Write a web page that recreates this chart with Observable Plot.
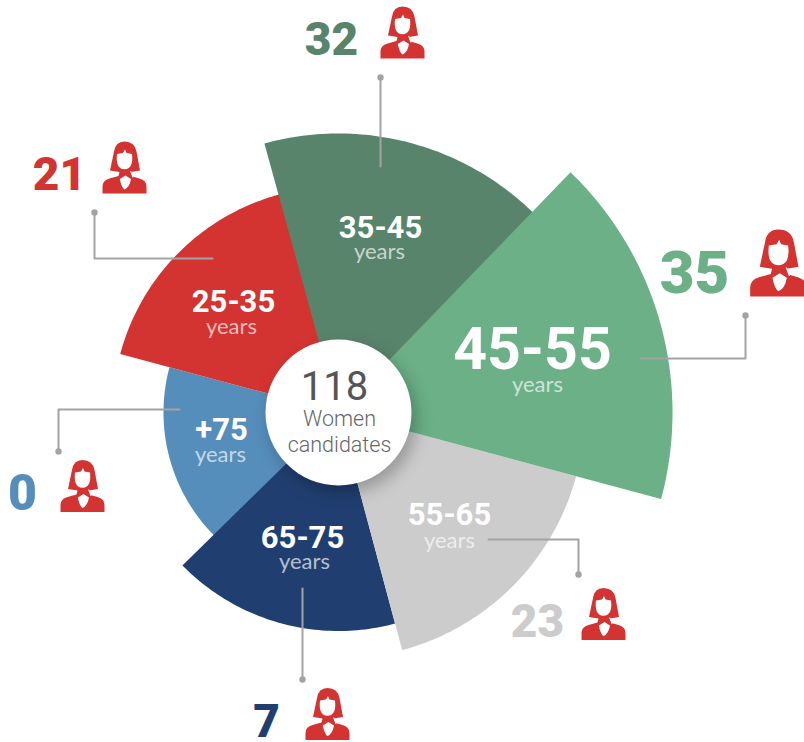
<!DOCTYPE html>
<html><head><meta charset="utf-8">
<script src="https://cdn.jsdelivr.net/npm/d3@7"></script>
<script src="https://cdn.jsdelivr.net/npm/@observablehq/plot@0.6"></script>
<style>html,body{margin:0;padding:0;background:#fff}svg{display:block}</style>
</head><body><div id="chart"></div>
<script>
// ---- chart values
const groups   = ["+75","65-75","55-65","45-55","35-45","25-35"];
const counts   = [0,7,23,35,32,21];
const startDeg = [225,165,105,44,-15.4,285];
const spanDeg  = [60,60.6,60,61,60,60];
const reach    = [175,218.5,246,334,279,226];
const colors   = ["#558dbb","#203f70","#cccccc","#6bb086","#59846c","#d33431"];
const total = 118;
const totalLabel = ["Women","candidates"];
const unit = "years";

// ---- annotation layout (separate from values, same order as groups)
const center = [338,412];
const groupLabelAt = [[221,430],[302,538],[449,515],[532,350],[380,228],[233,302]];
const groupLabelSize = [31,31,31,59,31,31];
const unitAt = [[220,454],[304,561],[449,540],[537,384],[379,251],[231,326]];
const countAt = [[22,493],[266,722],[537,622],[694,273],[331,40],[59,175]];
const countSize = [50,46,46,60,46,46];
const iconAt = [[82,485.5],[327,713.5],[603,613.5],[778,262.5],[402,32],[124,167]];
const iconSize = [26,26,26,33.5,26,26];
const leaders = [
  [[179,409],[58,409],[58,451]],
  [[302,588],[302,679]],
  [[488,539],[578,539],[578,574]],
  [[640,358],[745,358],[745,315]],
  [[380,166],[380,77]],
  [[212,258],[94,258],[94,212]]
];

const rows = groups.map((g,i)=>({group:g,count:counts[i],start:startDeg[i],span:spanDeg[i],reach:reach[i],color:colors[i],i}));
const sectorPts = rows.flatMap(r=>{
  const pts=[{i:r.i,x:center[0],y:center[1],color:r.color}];
  for(let k=0;k<=60;k++){
    const a=(r.start+k*r.span/60)*Math.PI/180;
    pts.push({i:r.i,x:center[0]+r.reach*Math.sin(a),y:center[1]-r.reach*Math.cos(a),color:r.color});
  }
  pts.push({i:r.i,x:center[0],y:center[1],color:r.color});
  return pts;
});
const leaderPts = leaders.flatMap((l,i)=>l.map(p=>({i,x:p[0],y:p[1]})));
const leaderEnds = leaders.map(l=>({x:l[l.length-1][0],y:l[l.length-1][1]}));
const iconRows = rows.map((r,i)=>({x:iconAt[i][0],y:iconAt[i][1],r:iconSize[i]}));

// person pictogram
function scaler(ctx,size){const k=Math.sqrt(size/Math.PI)/26;
  return {M:(x,y)=>ctx.moveTo(x*k,y*k),L:(x,y)=>ctx.lineTo(x*k,y*k),
    Q:(a,b,x,y)=>ctx.quadraticCurveTo(a*k,b*k,x*k,y*k),
    C:(a,b,c,d,x,y)=>ctx.bezierCurveTo(a*k,b*k,c*k,d*k,x*k,y*k),Z:()=>ctx.closePath()};}
const personBody={draw(ctx,size){const p=scaler(ctx,size);
  p.M(-14.5,3);p.L(-10.5,-16);p.Q(-9,-26,0,-26);p.Q(10,-26,12,-16);p.L(15.5,3);p.L(6.5,4.5);
  p.L(8,9);p.L(15,11);p.Q(22,13,22,19);p.L(22,26);p.L(-22,26);p.L(-22,19);p.Q(-22,13,-15,11);
  p.L(-6,8.5);p.L(-5,4.5);p.Z();}};
const personFace={draw(ctx,size){const p=scaler(ctx,size);
  p.M(-7.5,-13.5);p.L(-1.5,-14.5);p.L(0.5,-18);p.L(2,-14.5);p.L(7.5,-13.5);
  p.C(8.5,-5,7,1.5,0,1.8);p.C(-7,1.5,-8.5,-5,-7.5,-13.5);p.Z();
  p.M(-4.7,11.4);p.L(1,8);p.L(6.5,11.5);p.Q(5,20,0,22);p.Q(-3,20,-4.7,11.4);p.Z();
  p.M(5.6,3.5);p.L(6.6,3.5);p.L(9,10);p.L(8,10);p.Z();}};

const shadow=(f)=>(index,scales,values,dims,ctx,next)=>{
  const g=next(index,scales,values,dims,ctx); g.style.filter=f; return g;};

const txt=(data,o)=>Plot.text(data,{textAnchor:"middle",lineAnchor:"middle",...o});
const labelRows=rows.map((r,i)=>({t:r.group,x:groupLabelAt[i][0],y:groupLabelAt[i][1],s:groupLabelSize[i]}));
const unitRows=rows.map((r,i)=>({t:unit,x:unitAt[i][0],y:unitAt[i][1]}));
const countRows=rows.map((r,i)=>({t:String(r.count),x:countAt[i][0],y:countAt[i][1],s:countSize[i],c:r.color}));

const drawOrder=[0,5,4,1,2,3];
const plot=Plot.plot({
  width:804,height:742,margin:0,
  style:{background:"#fff",overflow:"visible"},
  x:{domain:[0,804],range:[0,804],axis:null},
  y:{domain:[0,742],range:[0,742],axis:null},
  r:{type:"identity"},
  marks:[
    ...drawOrder.map(i=>Plot.line(sectorPts.filter(d=>d.i===i),{x:"x",y:"y",fill:colors[i],stroke:"none"})),
    Plot.line(leaderPts,{x:"x",y:"y",z:"i",stroke:"#a3a3a3",strokeWidth:2,curve:"linear"}),
    Plot.dot(leaderEnds,{x:"x",y:"y",r:3.2,fill:"#a3a3a3",stroke:"none"}),
    Plot.dot([{x:center[0],y:center[1]}],{x:"x",y:"y",r:73,fill:"#fff",stroke:"none",
       render:shadow("drop-shadow(5px 7px 8px rgba(0,0,0,.26))")}),
    txt(labelRows,{x:"x",y:"y",text:"t",fontSize:"s",fontWeight:700,fontFamily:"Roboto",fill:"#fff"}),
    txt(unitRows,{x:"x",y:"y",text:"t",fontSize:22,fontWeight:400,fontFamily:"Lato",fill:"#fff",fillOpacity:0.68}),
    txt(countRows,{x:"x",y:"y",text:"t",fontSize:"s",fontWeight:900,fontFamily:"Roboto",fill:"c"}),
    Plot.dot(iconRows,{x:"x",y:"y",r:"r",symbol:personBody,fill:"#d33431",stroke:"none"}),
    Plot.dot(iconRows,{x:"x",y:"y",r:"r",symbol:personFace,fill:"#fff",stroke:"none"}),
    txt([{t:String(total)}],{x:()=>334,y:()=>387,text:"t",fontSize:40,fontWeight:400,fontFamily:"Roboto",fill:"#555"}),
    txt([{t:totalLabel[0]},{t:totalLabel[1]}],{x:()=>339,y:(d,i)=>i?445:419,text:"t",fontSize:21.5,fontWeight:300,fontFamily:"Roboto",fill:"#666"})
  ]
});
document.getElementById("chart").append(plot);
</script></body></html>
